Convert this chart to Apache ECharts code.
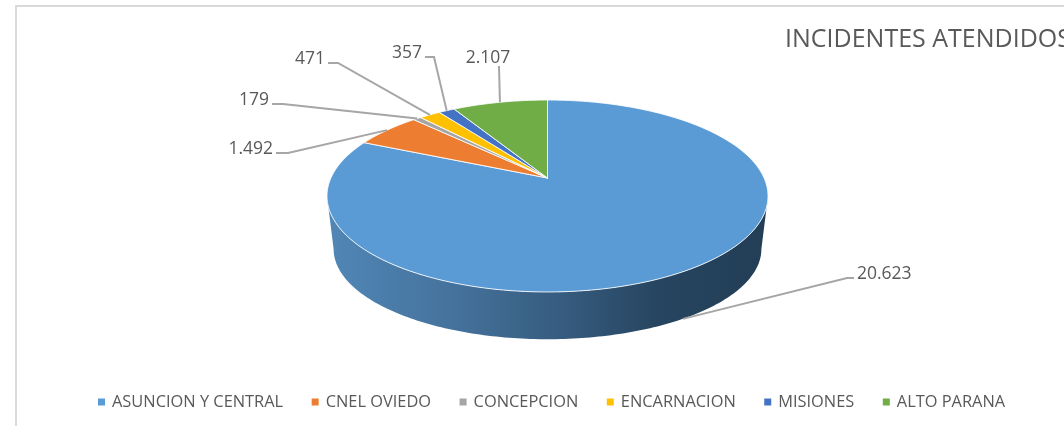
<!DOCTYPE html>
<html>
<head>
<meta charset="utf-8">
<style>
  html, body { margin: 0; padding: 0; background: #fff; overflow: hidden; }
  #chart { width: 1064px; height: 426px; }
</style>
<script src="https://cdn.jsdelivr.net/npm/echarts@6/dist/echarts.min.js"></script>
</head>
<body>
<div id="chart"></div>
<script>
var categories = ['ASUNCION Y CENTRAL', 'CNEL OVIEDO', 'CONCEPCION', 'ENCARNACION', 'MISIONES', 'ALTO PARANA'];
var values = [20623, 1492, 179, 471, 357, 2107];
var valueLabels = ['20.623', '1.492', '179', '471', '357', '2.107'];
var colors = ['#5B9BD5', '#ED7D31', '#A5A5A5', '#FFC000', '#4472C4', '#70AD47'];

// leader line elbow + which side the text sits on
var elbows = [
  { from: [854, 278], to: [847, 278], align: 'left' },
  { from: [276, 153], to: [288, 153], align: 'right' },
  { from: [272, 104], to: [283, 104], align: 'right' },
  { from: [328, 63], to: [338, 63], align: 'right' },
  { from: [425, 57], to: [434, 57], align: 'right' },
  { from: [499, 66], to: [499, 66], align: 'center' }
];

var FONT = '"Open Sans", sans-serif';
var TEXT = '#595959';
var total = values.reduce(function (a, b) { return a + b; }, 0);

// perspective of the disc: apex sits above the centre of the ellipse
var cx = 547.5, apexY = 178, A = 216.6, B = 92.6, K = 0.1875;
function topPt(a) {
  var u = Math.sin(a), v = Math.cos(a), d = 1 + K * v;
  return [cx + A * u / d, apexY - B * v / d];
}
function bottomPt(a) {
  var p = topPt(a);
  return [cx + (p[0] - cx) * 0.97, 249 + (p[1] - 196) * 0.94];
}
function sample(fn, a0, a1) {
  var pts = [], n = Math.max(2, Math.ceil(Math.abs(a1 - a0) * 60));
  for (var i = 0; i <= n; i++) pts.push(fn(a0 + (a1 - a0) * i / n));
  return pts;
}

var LEFT_EXT = Math.PI * 2 - Math.acos(-K), RIGHT_EXT = Math.acos(-K);

function renderSlice(params, api) {
  var idx = params.seriesIndex;
  var before = 0;
  for (var i = 0; i < idx; i++) before += values[i];
  var a0 = before / total * Math.PI * 2;
  var a1 = a0 + api.value(0) / total * Math.PI * 2;
  var mid = (a0 + a1) / 2;
  var children = [];

  // side wall only for the part facing the viewer
  var s0 = Math.max(a0, RIGHT_EXT), s1 = Math.min(a1, LEFT_EXT);
  var front = s1 > s0;
  if (front) {
    children.push({
      type: 'polygon',
      shape: { points: sample(topPt, s0, s1).concat(sample(bottomPt, s0, s1).reverse()) },
      style: {
        fill: {
          type: 'linear', global: true, x: 327, y: 0, x2: 768, y2: 0,
          colorStops: [
            { offset: 0, color: '#5187B6' },
            { offset: 0.3, color: '#44719B' },
            { offset: 0.55, color: '#355A7C' },
            { offset: 0.75, color: '#264560' },
            { offset: 1, color: '#233E56' }
          ]
        }
      }
    });
  }

  children.push({
    type: 'polygon',
    shape: { points: [[cx, apexY]].concat(sample(topPt, a0, a1)) },
    style: { fill: colors[idx], stroke: '#fff', strokeOpacity: 0.85, lineWidth: 1, lineJoin: 'round' }
  });

  var e = elbows[idx];
  var end = front ? bottomPt(mid) : topPt(mid);
  children.push({
    type: 'polyline',
    z2: 5,
    shape: { points: [e.from, e.to, end] },
    style: { fill: null, stroke: '#A6A6A6', lineWidth: 2 }
  });
  children.push({
    type: 'text',
    z2: 6,
    style: {
      x: e.align === 'left' ? e.to[0] + 10 : e.align === 'right' ? e.from[0] - 3 : e.from[0] - 11,
      y: e.align === 'center' ? e.from[1] - 8 : e.from[1] - 3.5,
      text: valueLabels[idx],
      font: '17.5px ' + FONT,
      fill: TEXT,
      align: e.align,
      verticalAlign: 'middle'
    }
  });
  return { type: 'group', children: children };
}

var series = categories.map(function (name, i) {
  return {
    name: name,
    type: 'custom',
    coordinateSystem: 'none',
    silent: true,
    animation: false,
    itemStyle: { color: colors[i] },
    data: [[values[i]]],
    renderItem: renderSlice
  };
});

var chart = echarts.init(document.getElementById('chart'), null, { renderer: 'canvas' });
chart.setOption({
  animation: false,
  backgroundColor: '#fff',
  title: {
    text: 'INCIDENTES ATENDIDOS',
    left: 785,
    top: 27,
    padding: 0,
    textStyle: { color: TEXT, fontFamily: FONT, fontSize: 25, fontWeight: 'normal' }
  },
  legend: {
    left: 98,
    top: 394,
    padding: 0,
    icon: 'rect',
    itemWidth: 7,
    itemHeight: 7,
    itemGap: 28.5,
    selectedMode: false,
    data: categories,
    textStyle: { color: TEXT, fontFamily: FONT, fontSize: 16.4, padding: [0, 0, 0, 2] }
  },
  graphic: [{
    type: 'polyline',
    shape: { points: [[16, 426], [16, 6], [1064, 6]] },
    style: { fill: null, stroke: '#D9D9D9', lineWidth: 2 }
  }],
  series: series
});
</script>
</body>
</html>
